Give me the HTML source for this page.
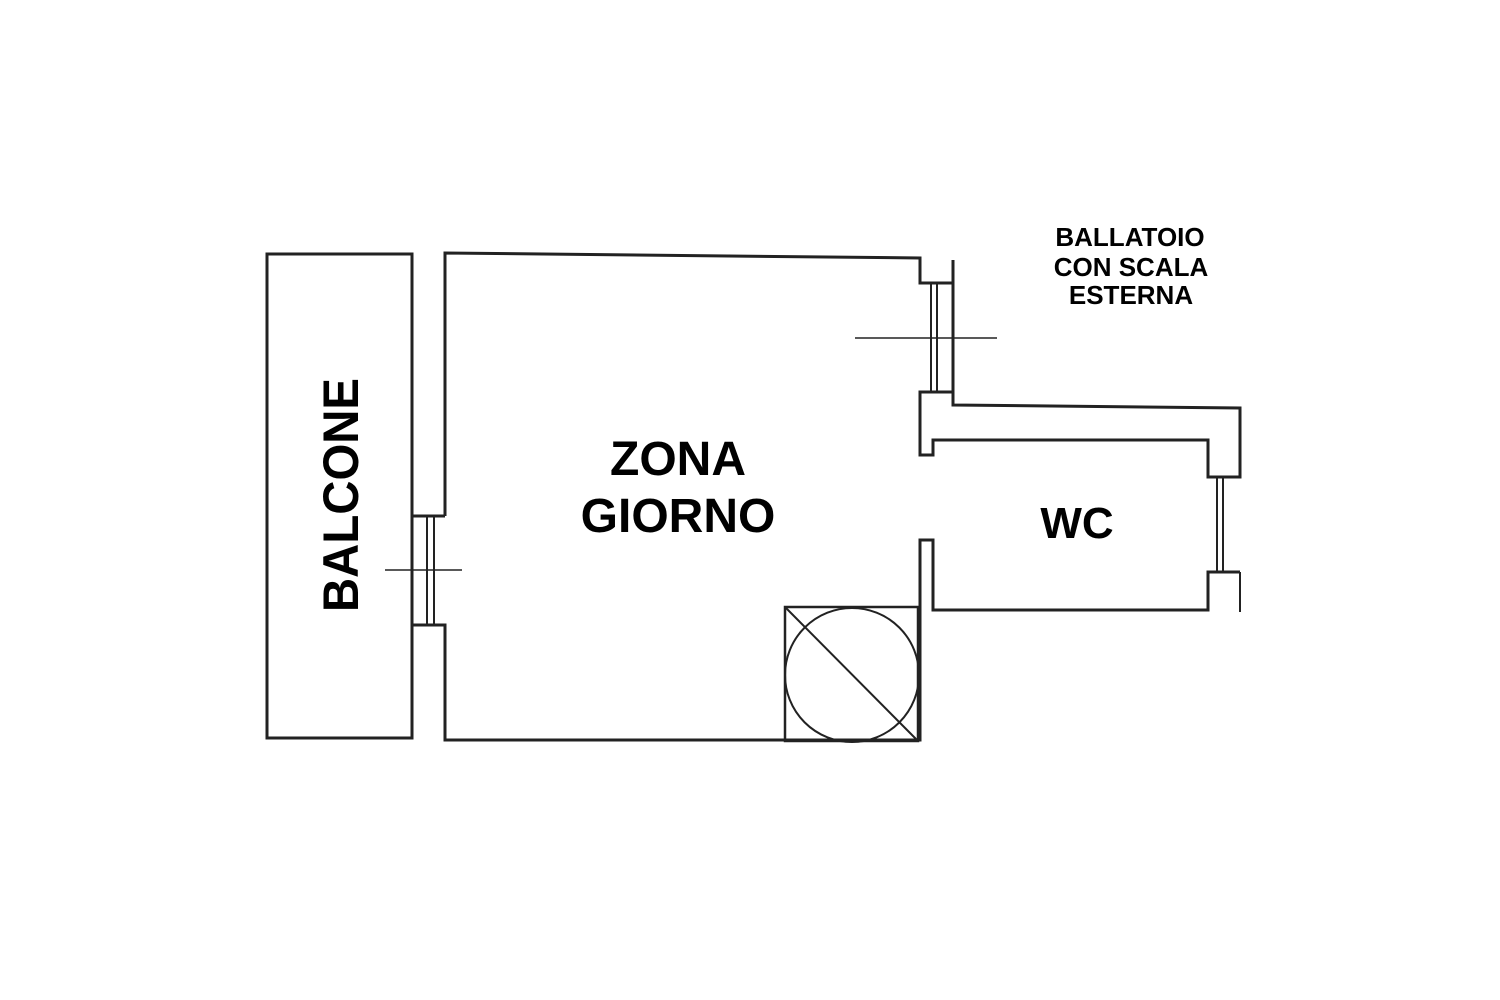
<!DOCTYPE html>
<html><head><meta charset="utf-8"><style>html,body{margin:0;padding:0;background:#fff}svg{display:block}</style></head>
<body>
<svg width="1500" height="1000" viewBox="0 0 1500 1000" xmlns="http://www.w3.org/2000/svg">
<rect width="1500" height="1000" fill="#fff"/>
<g fill="none" stroke="#222" stroke-width="3" stroke-linejoin="miter">
<rect x="267" y="254" width="145" height="484"/>
<polyline points="445,516 445,253 920,258 920,283 953,283"/>
<polyline points="412,516 445,516"/>
<polyline points="412,625 445,625 445,740 920,740 920,540 933,540 933,610 1208,610 1208,572 1240,572"/>
<polyline points="953,260 953,392 920,392 920,455 933,455 933,440 1208,440 1208,477 1240,477 1240,408 953,405 953,392"/>
<rect x="785" y="607" width="133" height="134" stroke-width="2.5"/>
</g>
<g fill="none" stroke="#222" stroke-width="2">
<line x1="427" y1="516" x2="427" y2="625"/>
<line x1="434" y1="516" x2="434" y2="625"/>
<line x1="385" y1="570" x2="462" y2="570" stroke-width="1.5"/>
<line x1="931" y1="283" x2="931" y2="392"/>
<line x1="937" y1="283" x2="937" y2="392"/>
<line x1="855" y1="338" x2="997" y2="338" stroke-width="1.5"/>
<line x1="1217" y1="477" x2="1217" y2="572"/>
<line x1="1223" y1="477" x2="1223" y2="572"/>
<line x1="1240" y1="572" x2="1240" y2="612"/>
<circle cx="852" cy="675" r="67"/>
<line x1="786" y1="608" x2="917" y2="740"/>
</g>
<g font-family="Liberation Sans, sans-serif" font-weight="bold" fill="#000">
<text x="0" y="0" font-size="50" textLength="234" lengthAdjust="spacingAndGlyphs" transform="translate(358,612) rotate(-90)">BALCONE</text>
<text x="678" y="475" font-size="48" text-anchor="middle">ZONA</text>
<text x="678" y="532" font-size="48" text-anchor="middle">GIORNO</text>
<text x="1077" y="538" font-size="44" text-anchor="middle">WC</text>
<text x="1130" y="246" font-size="26" text-anchor="middle">BALLATOIO</text>
<text x="1131" y="276" font-size="26" text-anchor="middle">CON SCALA</text>
<text x="1131" y="304" font-size="26" text-anchor="middle">ESTERNA</text>
</g>
</svg>
</body></html>
